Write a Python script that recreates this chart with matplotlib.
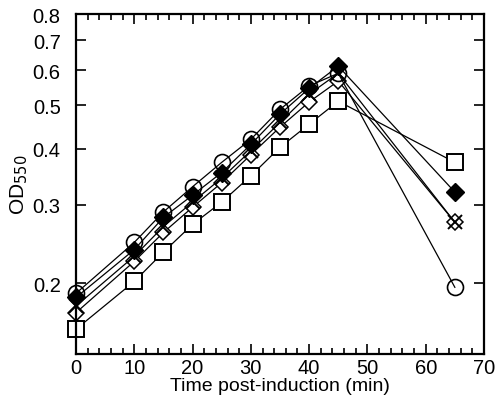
import numpy as np
import matplotlib.pyplot as plt
from matplotlib.ticker import FixedLocator, NullLocator, MultipleLocator, FormatStrFormatter

plt.rcParams['font.family'] = ['Liberation Sans', 'DejaVu Sans']

# Time points (min)
time = [0, 10, 15, 20, 25, 30, 35, 40, 45, 65]

# OD550 readings for each culture
od_circle = [0.190, 0.247, 0.289, 0.329, 0.373, 0.420, 0.490, 0.553, 0.590, 0.196]
od_fdiamond = [0.186, 0.238, 0.281, 0.315, 0.354, 0.409, 0.478, 0.546, 0.612, 0.320]
od_cross = [0.178, 0.230, 0.268, 0.304, 0.344, 0.396, 0.458, 0.530, 0.590, 0.274]
od_odiamond = [0.172, 0.224, 0.260, 0.296, 0.336, 0.388, 0.447, 0.509, 0.567, 0.274]
od_square = [0.158, 0.202, 0.235, 0.271, 0.304, 0.348, 0.403, 0.454, 0.511, 0.373]

yticks = [0.2, 0.3, 0.4, 0.5, 0.6, 0.7, 0.8]

fig = plt.figure(figsize=(5, 4.1), dpi=100)
ax = fig.add_axes([0.152, 0.134, 0.816, 0.829])

kw = dict(color='black', linewidth=0.9, clip_on=False)
ax.plot(time, od_square, marker='s', ms=11.5, mfc='white', mec='black', mew=1.4, **kw)
ax.plot(time, od_odiamond, marker='D', ms=8.5, mfc='white', mec='black', mew=1.1, **kw)
ax.plot(time, od_cross, marker='x', ms=10, mec='black', mew=1.4, **kw)
ax.plot(time, od_circle, marker='o', ms=11.5, mfc='none', mec='black', mew=1.2, **kw)
ax.plot(time, od_fdiamond, marker='D', ms=9, mfc='black', mec='black', mew=1.0, **kw)

ax.set_yscale('log')
ax.set_ylim(0.139, 0.8)
ax.set_xlim(0, 70)
ax.yaxis.set_major_locator(FixedLocator(yticks))
ax.yaxis.set_minor_locator(NullLocator())
ax.yaxis.set_major_formatter(FormatStrFormatter('%.1f'))
ax.xaxis.set_major_locator(MultipleLocator(10))
ax.xaxis.set_minor_locator(MultipleLocator(2))

ax.tick_params(which='both', direction='in', top=True, right=True, labelsize=14.5, width=1.2)
ax.tick_params(which='major', length=7)
ax.tick_params(axis='y', which='major', pad=11)
ax.tick_params(axis='x', which='major', pad=3)
ax.tick_params(which='minor', length=4)
for s in ax.spines.values():
    s.set_linewidth(1.6)

ax.set_xlabel('Time post-induction (min)', fontsize=14, labelpad=0)
ax.set_ylabel('OD$_{550}$', fontsize=15, labelpad=2)

fig.savefig('out.png', dpi=100)
